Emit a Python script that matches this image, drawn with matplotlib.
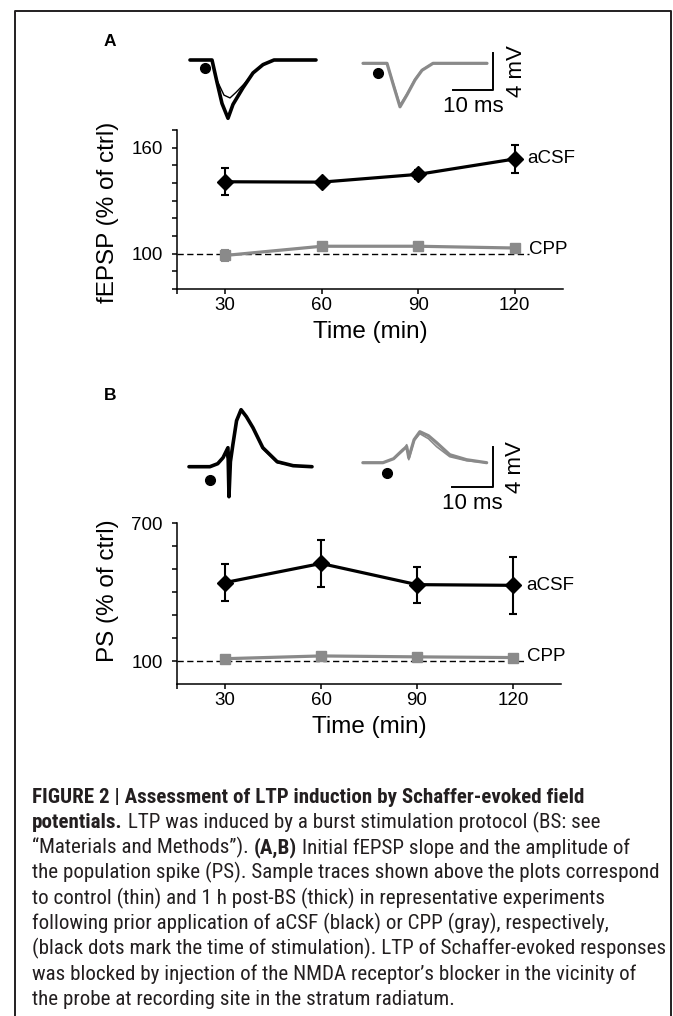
import matplotlib
matplotlib.use('Agg')
import matplotlib.pyplot as plt
from matplotlib import font_manager

W, H = 673, 1016
DPI = 100

# summary data
time_min = [30, 60, 90, 120]
fepsp_acsf = [140.7, 140.5, 144.9, 153.6]
fepsp_acsf_err = [7.6, 2.0, 2.5, 8.0]
fepsp_cpp = [99.0, 104.2, 104.2, 103.2]
fepsp_cpp_err = [3.2, 1.5, 1.5, 1.5]
ps_acsf = [441, 524, 432, 429]
ps_acsf_err = [79, 103, 78, 125]
ps_cpp = [110, 122, 118, 115]
ps_cpp_err = [8, 8, 8, 8]

# sample traces, time in ms and voltage in mV relative to baseline
a_black_t = [0, 5.5, 6.75, 8, 9.5, 10.75, 13.25, 15.75, 18.25, 21, 31.5]
a_black_thick = [0, 0, -2.4, -4.7, -6.3, -4.8, -3.0, -1.4, -0.5, 0, 0]
a_black_thin_t = [0, 5.5, 6.75, 8.5, 10, 11.5, 13.5, 16, 18.5, 21, 31.5]
a_black_thin = [0, 0, -2.2, -3.8, -4.1, -3.5, -2.6, -1.3, -0.5, 0, 0]
a_gray_t = [0, 6, 7.6, 9.25, 11, 13, 14.75, 17.5, 31]
a_gray_thick = [0, 0, -2.35, -4.7, -3.4, -1.8, -0.75, 0, 0]
a_gray_thin = [0, 0, -2.2, -4.5, -3.3, -1.7, -0.7, 0, 0]

b_black_t = [0, 5.1, 7, 8.3, 9.5, 9.75, 10.1, 10.7, 11.6, 12.7, 14, 15.6, 18, 21.5, 25.4, 30]
b_black_thick = [0, 0, 0.3, 0.9, 1.9, -3.0, 0.5, 2.2, 4.6, 5.7, 5.0, 3.9, 1.9, 0.5, 0.1, 0]
b_black_thin_t = [0, 5.1, 7, 8.3, 9.0, 9.3, 9.6, 10.1, 10.7, 11.6, 12.7, 14, 15.6, 18, 21.5, 25.4, 30]
b_black_thin = [0, 0, 0.3, 0.9, 1.5, 0.9, 1.6, 1.0, 2.4, 4.7, 5.7, 5.0, 3.8, 1.8, 0.4, 0.1, 0]
b_gray_t = [0, 4.9, 7.5, 9.8, 10.7, 11.2, 12.5, 13.9, 16, 18, 21.2, 25.3, 30.2]
b_gray_thick = [0, 0, 0.4, 1.3, 1.6, 0.5, 2.3, 3.1, 2.7, 2.0, 0.8, 0.3, 0]
b_gray_thin = [0, 0, 0.4, 1.2, 1.8, 0.3, 2.2, 2.9, 2.4, 1.6, 0.6, 0.2, 0]

# stimulation time (ms) for the black / gray traces
stim_a = [3.75, 3.75]
stim_b = [5.1, 5.9]

caption = [
    [("FIGURE 2 | Assessment of LTP induction by Schaffer-evoked field", True)],
    [("potentials.", True), (" LTP was induced by a burst stimulation protocol (BS: see", False)],
    [("\u201cMaterials and Methods\u201d). ", False), ("(A,B)", True),
     (" Initial fEPSP slope and the amplitude of", False)],
    [("the population spike (PS). Sample traces shown above the plots correspond", False)],
    [("to control (thin) and 1 h post-BS (thick) in representative experiments", False)],
    [("following prior application of aCSF (black) or CPP (gray), respectively,", False)],
    [("(black dots mark the time of stimulation). LTP of Schaffer-evoked responses", False)],
    [("was blocked by injection of the NMDA receptor\u2019s blocker in the vicinity of", False)],
    [("the probe at recording site in the stratum radiatum.", False)],
]

GRAY = '#8a8a8a'
plt.rcParams['font.family'] = ['Liberation Sans', 'DejaVu Sans']

fig = plt.figure(figsize=(W / DPI, H / DPI), dpi=DPI)


def px_rect(x0, y0, x1, y1):
    return [x0 / W, 1 - y1 / H, (x1 - x0) / W, (y1 - y0) / H]


def trace_axes(x0, y0, x1, y1, ox, oy, px_ms, px_mv):
    ax = fig.add_axes(px_rect(x0, y0, x1, y1))
    ax.set_xlim((x0 - ox) / px_ms, (x1 - ox) / px_ms)
    ax.set_ylim(-(y1 - oy) / px_mv, (oy - y0) / px_mv)
    ax.axis('off')
    return ax


def shifted(vals, d):
    return [v + d for v in vals]


def draw_traces(ax, bt, bthick, btt, bthin, gt, gthick, gthin, gshift, stim, dot_dv, bar):
    gx, gy = gshift
    ax.plot(btt, bthin, color='k', lw=1.0, solid_joinstyle='round')
    ax.plot(bt, bthick, color='k', lw=2.6, solid_joinstyle='round', solid_capstyle='round')
    ax.plot(shifted(gt, gx), shifted(gthin, gy), color=GRAY, lw=1.2, solid_joinstyle='round')
    ax.plot(shifted(gt, gx), shifted(gthick, gy), color=GRAY, lw=2.3,
            solid_joinstyle='round', solid_capstyle='round')
    ax.plot([stim[0]], [dot_dv[0]], 'o', color='k', ms=7)
    ax.plot([stim[1] + gx], [gy + dot_dv[1]], 'o', color='k', ms=7)
    # scale bar: 10 ms x 4 mV
    bx, by = bar
    ax.plot([bx - 10, bx, bx], [by, by, by + 4], color='k', lw=1.4)
    ax.annotate('10 ms', xy=(bx - 5, by), xytext=(0, -4), textcoords='offset points',
                ha='center', va='top', fontsize=16)
    ax.annotate('4 mV', xy=(bx, by + 2), xytext=(9, 0), textcoords='offset points',
                ha='left', va='center', rotation=90, fontsize=16)


def style_axes(ax, ylim, ymajor, yminor, label, label_y):
    ax.set_xlim(15, 135)
    ax.set_ylim(*ylim)
    ax.spines['top'].set_visible(False)
    ax.spines['right'].set_visible(False)
    for s in ('left', 'bottom'):
        ax.spines[s].set_linewidth(1.1)
    ax.set_xticks(time_min)
    ax.set_xticks([15], minor=True)
    ax.set_yticks(ymajor)
    ax.set_yticks(yminor, minor=True)
    ax.tick_params(which='both', direction='out', length=3.6, width=1.1, labelsize=13.5)
    ax.tick_params(axis='y', pad=6.5)
    ax.tick_params(axis='x', pad=2.5)
    ax.set_xlabel('Time (min)', fontsize=17.5, labelpad=5)
    ax.set_ylabel(label, fontsize=17.5)
    ax.yaxis.set_label_coords(-0.15, label_y)


def draw_summary(ax, acsf, acsf_err, cpp, cpp_err):
    ax.plot([15, 124.5], [100, 100], color='k', lw=1.0, ls=(0, (4.5, 2.5)), zorder=1)
    ax.errorbar(time_min, cpp, yerr=cpp_err, fmt='-s', color=GRAY, ms=7.5, lw=2.3,
                elinewidth=1.5, capsize=3, capthick=1.5, zorder=2)
    ax.errorbar(time_min, acsf, yerr=acsf_err, fmt='-D', color='k', ms=8.5, lw=2.3,
                elinewidth=1.5, capsize=3, capthick=1.5, zorder=3)
    ax.text(124, acsf[-1], 'aCSF', fontsize=13.5, va='center', ha='left')
    ax.text(124.5, 100, 'CPP', fontsize=13.5, va='baseline', ha='left')


# panel A
ax_a = fig.add_axes(px_rect(177, 130, 563, 289))
draw_summary(ax_a, fepsp_acsf, fepsp_acsf_err, fepsp_cpp, fepsp_cpp_err)
style_axes(ax_a, (80, 170), [100, 160], list(range(80, 171, 10)), 'fEPSP (% of ctrl)', 0.484)

tr_a = trace_axes(180, 35, 540, 130, 190, 60, 4.0, 9.25)
draw_traces(tr_a, a_black_t, a_black_thick, a_black_thin_t, a_black_thin,
            a_gray_t, a_gray_thick, a_gray_thin, (43.25, -0.36), stim_a,
            (-0.86, -1.05), (75.75, -3.24))

# panel B
ax_b = fig.add_axes(px_rect(177, 523, 561, 684))
draw_summary(ax_b, ps_acsf, ps_acsf_err, ps_cpp, ps_cpp_err)
style_axes(ax_b, (0, 700), [100, 700], list(range(100, 701, 100)), 'PS (% of ctrl)', 0.578)

tr_b = trace_axes(180, 395, 540, 520, 189, 466.7, 4.1, 10.0)
draw_traces(tr_b, b_black_t, b_black_thick, b_black_thin_t, b_black_thin,
            b_gray_t, b_gray_thick, b_gray_thin, (42.4, 0.4), stim_b,
            (-1.33, -1.03), (74.1, -2.03))

fig.text(110 / W, 1 - 41 / H, 'A', fontsize=12.5, fontweight='bold', ha='center', va='center')
fig.text(110 / W, 1 - 395 / H, 'B', fontsize=12.5, fontweight='bold', ha='center', va='center')

# frame around the figure
frame = fig.add_axes([0, 0, 1, 1], zorder=-5)
frame.set_xlim(0, W)
frame.set_ylim(H, 0)
frame.axis('off')
frame.plot([15, 15, 671, 671], [H + 5, 10.5, 10.5, H + 5], color='#231f20', lw=1.4)

# caption, in a condensed face if one is installed
names = {f.name for f in font_manager.fontManager.ttflist}
cap_font = 'Liberation Sans'
for cand in ('Liberation Sans Narrow', 'Roboto Condensed', 'Open Sans Condensed', 'Noto Sans Condensed'):
    if cand in names:
        cap_font = cand
        break
renderer = fig.canvas.get_renderer()
probe = fig.text(0, 0, caption[3][0][0], fontsize=10, family=cap_font)
cap_size = 10 * 622 / probe.get_window_extent(renderer).width
probe.remove()

CAP_COLOR = '#231f20'
for i, parts in enumerate(caption):
    x = 32
    y = 803 + 25.25 * i
    for s, bold in parts:
        t = fig.text(x / W, 1 - y / H, s, fontsize=cap_size, family=cap_font,
                     fontweight='bold' if bold else 'normal', color=CAP_COLOR,
                     ha='left', va='baseline')
        x += t.get_window_extent(renderer).width

fig.savefig('out.png', dpi=DPI)
